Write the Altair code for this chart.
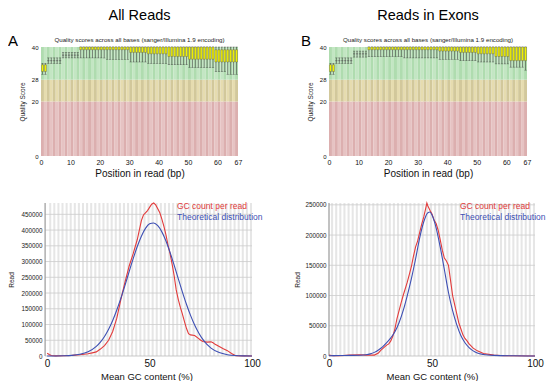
import altair as alt
import pandas as pd

FONT = "Liberation Sans"

# ---------------- data ----------------
positions = list(range(1, 68))
x_ticks_q = [0, 10, 20, 30, 40, 50, 60, 67]
y_ticks_q = [0, 20, 28, 40]
zone_low = [0, 20, 28]
zone_high = [20, 28, 40]

# All Reads: per-position quality (10th pct, 25th pct, 75th pct, 90th pct)
A_lo = [30, 30, 34, 34, 34, 34, 34, 36, 36, 36, 36, 36, 36,
        36, 36, 36, 36, 36, 36, 36, 36, 36,
        35.5, 35.5, 35.5, 35.5, 35.5, 35.5, 35.5, 35.5,
        34.5, 34.5, 34.5, 34.5, 34.5, 34.5,
        34, 34, 34, 34, 34, 34, 34,
        33.5, 33.5, 33.5, 33.5, 33.5, 33.5, 33.5,
        32.5, 32.5, 32.5, 32.5, 32.5, 32.5, 32.5, 32.5, 32.5,
        31, 31, 31, 31, 30, 30, 30, 30]
A_q1 = [31, 31, 35, 35, 35, 35, 35, 37, 37, 37, 37, 37, 37,
        39, 39, 39, 39, 39, 39, 39, 39, 39, 39, 39, 39, 39, 39, 39, 39, 39,
        38, 38, 38, 38, 38, 38,
        37.5, 37.5, 37.5, 37.5, 37.5, 37.5, 37.5,
        36.5, 36.5, 36.5, 36.5, 36.5, 36.5, 36.5,
        35.5, 35.5, 35.5, 35.5, 35.5, 35.5, 35.5, 35.5, 35.5,
        34.5, 34.5, 34.5, 34.5, 34.5, 34.5, 34.5, 34.5]
A_q3 = [33.5, 33.5, 35, 35, 35, 35, 35, 37, 37, 37, 37, 37, 37,
        40, 40, 40, 40, 40, 40, 40, 40, 40, 40, 40, 40, 40, 40, 40, 40,
        40, 40, 40, 40, 40, 40, 40, 40, 40, 40, 40, 40, 40, 40, 40, 40,
        40, 40, 40, 40, 40, 40, 40, 40, 40, 40, 40, 40, 40, 40,
        39, 39, 39, 39, 39, 39, 39, 39]
A_hi = [34, 34, 36, 36, 36, 36, 36, 38, 38, 38, 38, 38, 38,
        40, 40, 40, 40, 40, 40, 40, 40, 40, 40, 40, 40, 40, 40, 40, 40, 40, 40,
        40, 40, 40, 40, 40, 40, 40, 40, 40, 40, 40, 40, 40, 40, 40, 40, 40, 40,
        40, 40, 40, 40, 40, 40, 40, 40, 40, 40, 40, 40, 40, 40, 40, 40, 40, 40]

# Reads in Exons
B_lo = [30, 30, 34, 34, 34, 34, 34, 34, 36.3, 36.3, 36.3, 36.3, 36.3,
        36.5, 36.5, 36.5, 36.5, 36.5, 36.5, 36.5, 36.5, 36.5, 36.5, 36.5, 36.5,
        36, 36, 36, 36, 36, 36, 36, 36, 36, 36, 36, 36,
        35.5, 35.5, 35.5, 35.5, 35.5, 35.5, 35.5,
        35, 35, 35, 35, 35, 35,
        34.5, 34.5, 34.5, 34.5, 34.5, 34.5,
        33.8, 33.8, 33.8, 33.8, 33.8,
        32.6, 32.6, 32.6, 32.6, 32.6, 31.5]
B_q1 = [31, 31, 35, 35, 35, 35, 35, 35, 37.5, 37.5, 37.5, 37.5, 37.5,
        39, 39, 39, 39, 39, 39, 39, 39, 39, 39, 39, 39,
        39, 39, 39, 39, 39, 39, 39, 39, 39, 39, 39, 39,
        38.5, 38.5, 38.5, 38.5, 38.5, 38.5, 38.5,
        38, 38, 38, 38, 38, 38,
        37.5, 37.5, 37.5, 37.5, 37.5, 37.5,
        36.5, 36.5, 36.5, 36.5, 36.5,
        35, 35, 35, 35, 35, 35]
B_q3 = [33.5, 33.5, 35, 35, 35, 35, 35, 35, 37.5, 37.5, 37.5, 37.5, 37.5,
        40, 40, 40, 40, 40, 40, 40, 40, 40, 40, 40, 40, 40, 40, 40, 40, 40, 40,
        40, 40, 40, 40, 40, 40, 40, 40, 40, 40, 40, 40, 40, 40, 40, 40, 40, 40,
        40, 40, 40, 40, 40, 40, 40, 40, 40, 40, 40, 40, 40, 40, 40, 40, 40, 40]
B_hi = [34, 34, 36, 36, 36, 36, 36, 36, 38.5, 38.5, 38.5, 38.5, 38.5,
        40, 40, 40, 40, 40, 40, 40, 40, 40, 40, 40, 40, 40, 40, 40, 40, 40, 40,
        40, 40, 40, 40, 40, 40, 40, 40, 40, 40, 40, 40, 40, 40, 40, 40, 40, 40,
        40, 40, 40, 40, 40, 40, 40, 40, 40, 40, 40, 40, 40, 40, 40, 40, 40, 40]

# GC content, All Reads
A_red_x = [0, 1, 2, 4, 8, 12, 16, 20, 22, 24, 26, 28, 30, 32, 34, 36, 38, 40, 42,
           44, 45, 46, 47, 48, 49, 50, 51, 52, 53, 54, 55, 56, 57, 58, 59, 60, 61, 62, 63, 64,
           65, 66, 67, 68, 69, 70, 72, 74, 75, 76, 78, 80, 81, 82, 84, 86, 88, 90, 92, 96, 100]
A_red_y = [9000, 5000, 1500, 500, 1000, 2000, 4000, 7000, 10000, 13000,
           22000, 33000, 50000, 78000, 120000, 180000, 235000, 285000, 325000,
           370000, 400000, 430000, 448000, 455000, 462000, 472000, 482000, 486000, 480000, 468000,
           455000, 435000, 412000, 385000, 352000, 325000, 292000, 255000, 210000, 180000,
           155000, 134000, 110000, 88000, 71000, 67000, 65000, 55000, 50000, 46000,
           44000, 45000, 42000, 37000, 30000, 23000, 17000, 8000, 1000, 500, 0]
A_blue_x = [0, 4, 8, 12, 16, 20, 24, 26, 28, 30, 32, 34, 36, 38, 40, 42, 44, 46, 48, 50,
            52, 54, 56, 58, 60, 62, 64, 66, 68, 70, 72, 74, 76, 78, 80, 84, 88, 92, 96, 100]
A_blue_y = [43, 168, 594, 1870, 5320, 13500, 30600, 44200, 62100, 85000,
            113000, 146100, 183700, 224600, 267300, 309200, 348000, 380700, 405400, 419700,
            422600, 413900, 394300, 365300, 329200, 288400, 245900, 203900, 164400, 128900,
            98300, 72900, 52600, 36900, 25200, 10800, 4150, 1420, 440, 120]
A_yticks = [0, 50000, 100000, 150000, 200000, 250000, 300000, 350000, 400000, 450000]

# GC content, Reads in Exons
B_red_x = [0, 2, 5, 10, 15, 18, 20, 22, 24, 25, 27, 28, 29, 30, 31, 32, 33, 35, 36, 38,
           39, 40, 41, 42, 43, 44, 45, 46, 47, 47.5, 48, 49, 50, 51, 52, 53, 54, 55, 56, 57,
           58, 59, 60, 61, 62, 63, 64, 65, 66, 67, 68, 70, 72, 75, 80, 85, 100]
B_red_y = [1500, 500, 500, 1500, 2000, 1500, 1500, 1500, 5000, 9000,
           15000, 18000, 20000, 25000, 33000, 45000, 62000, 88000, 100000, 122000,
           135000, 148000, 165000, 180000, 190000, 204000, 218000, 230000, 245000, 253000,
           248000, 241000, 235000, 225000, 219000, 208000, 192000, 175000, 162000, 157000,
           150000, 125000, 100000, 85000, 70000, 55000, 45000, 35000, 29000, 25000,
           20000, 13000, 8500, 4000, 1500, 500, 0]
B_blue_x = [0, 5, 10, 15, 18, 20, 22, 24, 26, 28, 30, 32, 34, 36, 38, 40, 42, 44, 46, 48,
            49, 50, 52, 54, 56, 58, 60, 62, 64, 66, 68, 70, 72, 75, 80, 90, 100]
B_blue_y = [500, 800, 1000, 1200, 2000, 3500, 6000, 10000, 15000, 22000,
            30000, 40000, 55000, 75000, 100000, 128000, 160000, 195000, 222000, 237000,
            238000, 233000, 212000, 180000, 143000, 105000, 75000, 52000, 34000, 22000,
            14000, 8500, 5000, 2500, 1000, 300, 0]
B_yticks = [0, 50000, 100000, 150000, 200000, 250000]

# ---------------- styles ----------------
ZONE_COLORS = [["#e6c3c3", "#dcafaf"], ["#e6dcaf", "#d2c89b"], ["#c3e6c3", "#afdcaf"]]
BOX_FILL = "#f2f200"
RED = "#e23b3b"
BLUE = "#3d4fb3"
SUBTITLE = "Quality scores across all bases (sanger/Illumina 1.9 encoding)"


def quality_panel(title, letter, letter_dx, lo, q1, q3, hi, width):
    qdf = pd.DataFrame({"pos": positions, "lo": lo, "q1": q1, "q3": q3, "hi": hi})
    qdf["xc"] = qdf["pos"] - 0.5
    qdf["xb0"] = qdf["pos"] - 0.85
    qdf["xb1"] = qdf["pos"] - 0.15
    rows = []
    for p in positions:
        for zl, zh, cols in zip(zone_low, zone_high, ZONE_COLORS):
            rows.append({"x0": p - 1, "x1": p, "y0": zl, "y1": zh, "c": cols[p % 2]})
    bg = pd.DataFrame(rows)
    xs = alt.Scale(domain=[0, 67.0001], nice=False, zero=False)
    ys = alt.Scale(domain=[0, 40.0001], nice=False, zero=False)
    xax = alt.Axis(values=x_ticks_q, title="Position in read (bp)", grid=False, domain=False,
                   ticks=False, labelFontSize=7, labelPadding=2, labelFlush=False,
                   labelOverlap=False, titleFontSize=10, titleFontWeight="normal",
                   titlePadding=3, labelColor="#111", titleColor="#111")
    yax = alt.Axis(values=y_ticks_q, title="Quality Score", grid=False, domain=False,
                   ticks=False, labelFontSize=6, labelPadding=3, labelFlush=False,
                   labelOverlap=False, titleFontSize=6.5, titleFontWeight="normal",
                   titlePadding=6, labelColor="#111", titleColor="#222")

    def X(f):
        return alt.X(f, scale=xs, axis=xax)

    def Y(f):
        return alt.Y(f, scale=ys, axis=yax)

    band = alt.Chart(bg).mark_rect().encode(
        x=X("x0:Q"), x2="x1:Q", y=Y("y0:Q"), y2="y1:Q",
        color=alt.Color("c:N", scale=None))
    base = alt.Chart(qdf)
    whisk = base.mark_rule(color="#333", strokeWidth=0.55).encode(
        x=X("xc:Q"), y=Y("lo:Q"), y2="hi:Q")
    cap_lo = base.mark_tick(orient="horizontal", size=2.2, thickness=0.55, color="#333").encode(
        x=X("xc:Q"), y=Y("lo:Q"))
    cap_hi = base.mark_tick(orient="horizontal", size=2.2, thickness=0.55, color="#333").encode(
        x=X("xc:Q"), y=Y("hi:Q"))
    box = base.mark_rect(fill=BOX_FILL, stroke="#555", strokeWidth=0.4).encode(
        x=X("xb0:Q"), x2="xb1:Q", y=Y("q1:Q"), y2="q3:Q")
    lab = alt.Chart(pd.DataFrame({"t": [letter]})).mark_text(
        fontSize=15, align="left", baseline="alphabetic", font=FONT, color="black").encode(
        text="t:N", x=alt.value(letter_dx), y=alt.value(-1))
    return alt.layer(band, whisk, cap_lo, cap_hi, box, lab).properties(
        width=width, height=109,
        title=alt.TitleParams(text=title, subtitle=SUBTITLE, fontSize=14.5,
                              fontWeight="normal", subtitleFontSize=6.2,
                              subtitlePadding=13, offset=-10, anchor="middle",
                              frame="group", color="black", subtitleColor="#222"))


def gc_panel(red_x, red_y, blue_x, blue_y, yticks, xmin, axis_at, width,
             label_pad, title_pad, legend_dx):
    ymax = max(red_y)
    odd = [i for i in range(0, 100) if i % 2 == 1]
    stripes = pd.DataFrame({"s0": odd, "s1": [i + 1 for i in odd],
                            "y0": [0] * len(odd), "y1": [ymax] * len(odd)})
    grid = pd.DataFrame({"g": yticks[1:], "gx0": [axis_at] * (len(yticks) - 1),
                         "gx1": [100] * (len(yticks) - 1)})
    frame = pd.DataFrame({"ax": [axis_at], "x100": [100], "y0": [0], "y1": [ymax]})
    xs = alt.Scale(domain=[xmin, 100], nice=False, zero=False)
    ys = alt.Scale(domain=[0, ymax], nice=False)
    xax = alt.Axis(values=[0, 50, 100], title="Mean GC content (%)", grid=False, domain=False,
                   ticks=False, labelFontSize=10, labelPadding=2,
                   labelFlush=False, labelOverlap=False, titleFontSize=9.5,
                   titleFontWeight="normal", titlePadding=3, labelColor="#111",
                   titleColor="#111")
    yax = alt.Axis(values=yticks, format="d", title="Read", grid=False, domain=False,
                   ticks=False, labelFontSize=6.3, labelPadding=label_pad, labelFlush=False,
                   labelOverlap=False, titleFontSize=6.5, titleFontWeight="normal",
                   titlePadding=title_pad, labelColor="#222", titleColor="#222")

    def X(f):
        return alt.X(f, scale=xs, axis=xax)

    def Y(f):
        return alt.Y(f, scale=ys, axis=yax)

    st = alt.Chart(stripes).mark_rect(color="#e6e6e6").encode(
        x=X("s0:Q"), x2="s1:Q", y=Y("y0:Q"), y2="y1:Q")
    gl = alt.Chart(grid).mark_rule(color="#cccccc", strokeWidth=0.8).encode(
        x=X("gx0:Q"), x2="gx1:Q", y=Y("g:Q"))
    fr = alt.Chart(frame)
    yline = fr.mark_rule(color="#999", strokeWidth=1.2).encode(
        x=X("ax:Q"), y=Y("y0:Q"), y2="y1:Q")
    xline = fr.mark_rule(color="#bbb", strokeWidth=0.8).encode(
        x=X("ax:Q"), x2="x100:Q", y=Y("y0:Q"))
    blue = alt.Chart(pd.DataFrame({"x": blue_x, "y": blue_y})).mark_line(
        color=BLUE, strokeWidth=1.1, interpolate="monotone").encode(x=X("x:Q"), y=Y("y:Q"))
    red = alt.Chart(pd.DataFrame({"x": red_x, "y": red_y})).mark_line(
        color=RED, strokeWidth=1.1).encode(x=X("x:Q"), y=Y("y:Q"))
    leg = pd.DataFrame({"t": ["GC count per read", "Theoretical distribution"]})
    leg_red = alt.Chart(leg.iloc[[0]]).mark_text(
        fontSize=8.5, align="left", baseline="middle", font=FONT, color=RED).encode(
        text="t:N", x=alt.value(legend_dx), y=alt.value(3))
    leg_blue = alt.Chart(leg.iloc[[1]]).mark_text(
        fontSize=8.5, align="left", baseline="middle", font=FONT, color=BLUE).encode(
        text="t:N", x=alt.value(legend_dx), y=alt.value(14))
    return alt.layer(st, gl, yline, xline, red, blue, leg_red, leg_blue).properties(
        width=width, height=153)


tl = quality_panel("All Reads", "A", -33, A_lo, A_q1, A_q3, A_hi, 197)
tr = quality_panel("Reads in Exons", "B", -28, B_lo, B_q1, B_q3, B_hi, 198)
bl = gc_panel(A_red_x, A_red_y, A_blue_x, A_blue_y, A_yticks, -3, -1, 211, -1, 6, 136)
br = gc_panel(B_red_x, B_red_y, B_blue_x, B_blue_y, B_yticks, 0, 0, 206, 3, 4, 131)

chart = alt.hconcat(
    alt.vconcat(tl, bl, spacing=22),
    alt.vconcat(tr, br, spacing=22),
    spacing=31,
).properties(padding=0, background="white").configure_view(stroke=None).configure_axis(
    labelFont=FONT, titleFont=FONT).configure_title(font=FONT, subtitleFont=FONT)

chart.save("out.html", embed_options={"renderer": "svg", "actions": False})
